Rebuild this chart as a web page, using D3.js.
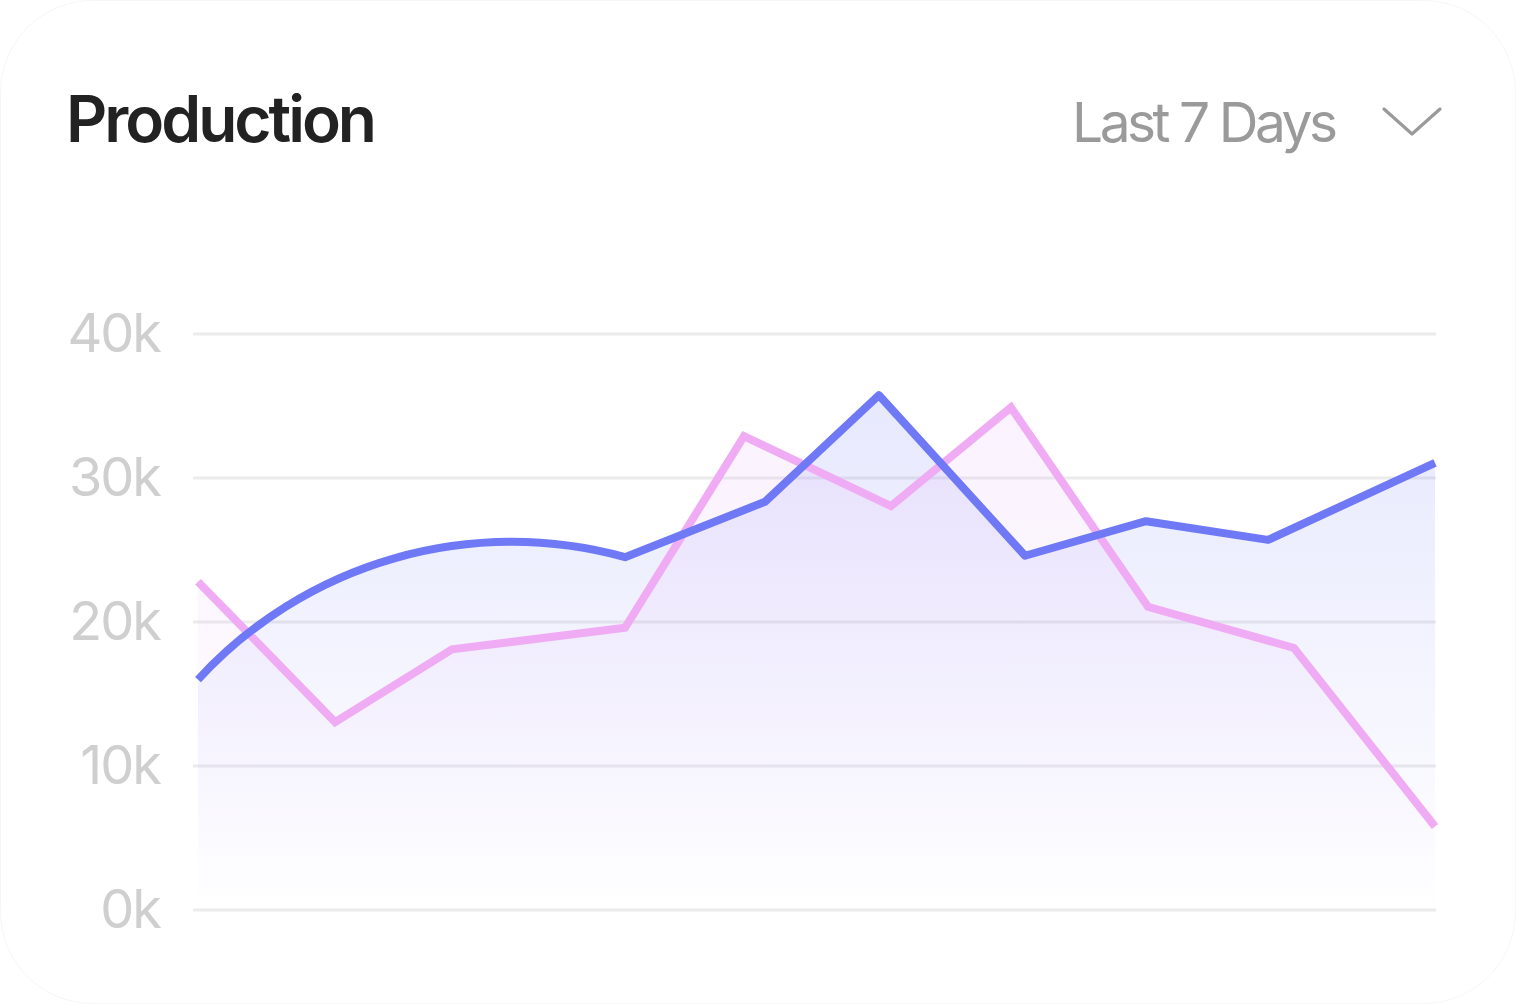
<!DOCTYPE html>
<html>
<head>
<meta charset="utf-8">
<script src="https://cdn.jsdelivr.net/npm/d3@7"></script>
<style>
  html, body { margin: 0; padding: 0; background: #ffffff; }
  svg { display: block; }
</style>
</head>
<body>
<svg id="chart" width="1516" height="1004"></svg>
<script>
// ---- data ----
const title = "Production";
const rangeLabel = "Last 7 Days";
const yTicks = [0, 10000, 20000, 30000, 40000];
const yTickLabels = ["0k", "10k", "20k", "30k", "40k"];

// position along the period (0–100) and value for each series
const pinkX = [0, 11.08, 20.53, 34.52, 44.14, 56.02, 65.72, 76.8, 88.6, 100];
const pinkY = [22800, 13050, 18100, 19600, 32900, 28050, 34900, 21050, 18200, 5800];

const blueX = [0, 34.52, 45.84, 55.05, 66.86, 76.64, 86.5, 100];
const blueY = [16000, 24500, 28350, 35750, 24600, 27000, 25700, 31050];

// ---- layout ----
const W = 1516, H = 1004;
const plot = { left: 198, right: 1435, top: 334, bottom: 910 };

const svg = d3.select("#chart");

// card
svg.append("rect")
  .attr("x", 0.5).attr("y", 0.5)
  .attr("width", W - 1).attr("height", H - 1)
  .attr("rx", 92).attr("ry", 92)
  .attr("fill", "#ffffff")
  .attr("stroke", "#f6f6f6")
  .attr("stroke-width", 1);

const x = d3.scaleLinear().domain([0, 100]).range([plot.left, plot.right]);
const y = d3.scaleLinear().domain([0, 40000]).range([plot.bottom, plot.top]);

// title & dropdown
svg.append("text")
  .attr("x", 66).attr("y", 142)
  .attr("font-family", "Inter, 'Open Sans', sans-serif")
  .attr("font-weight", 600)
  .attr("font-size", 64)
  .attr("fill", "#222222")
  .attr("textLength", 311)
  .attr("lengthAdjust", "spacing")
  .text(title);

svg.append("text")
  .attr("x", 1072).attr("y", 142)
  .attr("font-family", "Inter, 'Open Sans', sans-serif")
  .attr("font-weight", 400)
  .attr("font-size", 55)
  .attr("fill", "#9a9a9a")
  .attr("textLength", 266)
  .attr("lengthAdjust", "spacing")
  .text(rangeLabel);

svg.append("path")
  .attr("d", d3.line()([[1384, 109], [1412, 134], [1440, 109]]))
  .attr("fill", "none")
  .attr("stroke", "#9a9a9a")
  .attr("stroke-width", 3.2)
  .attr("stroke-linecap", "round")
  .attr("stroke-linejoin", "round");

// gradients
const defs = svg.append("defs");
function grad(id, color, op) {
  const g = defs.append("linearGradient").attr("id", id)
    .attr("x1", 0).attr("y1", 0).attr("x2", 0).attr("y2", 1);
  g.append("stop").attr("offset", "0%").attr("stop-color", color).attr("stop-opacity", op);
  g.append("stop").attr("offset", "100%").attr("stop-color", color).attr("stop-opacity", 0);
}
grad("gBlue", "#6f79f6", 0.17);
grad("gPink", "#dfa6f6", 0.15);

// grid lines
const gridG = svg.append("g");
gridG.selectAll("line").data(yTicks).join("line")
  .attr("x1", 193).attr("x2", 1436)
  .attr("y1", d => y(d)).attr("y2", d => y(d))
  .attr("stroke", "#ebebeb")
  .attr("stroke-width", 3);

// y axis labels
svg.append("g").selectAll("text").data(yTicks).join("text")
  .attr("x", 160)
  .attr("y", d => y(d) + 3)
  .attr("text-anchor", "end")
  .attr("dominant-baseline", "middle")
  .attr("font-family", "Inter, 'Open Sans', sans-serif")
  .attr("font-size", 54)
  .attr("letter-spacing", -2)
  .attr("fill", "#cfcfcf")
  .text((d, i) => yTickLabels[i]);

// series geometry
const pinkPts = pinkX.map((v, i) => [x(v), y(pinkY[i])]);
const bluePts = blueX.map((v, i) => [x(v), y(blueY[i])]);

const pinkLine = d3.line()(pinkPts);
// blue: first segment drawn as a circular arc, the rest straight
const arcR = 426;
function bluePath() {
  const p = d3.path();
  p.moveTo(bluePts[0][0], bluePts[0][1]);
  let s = p.toString();
  s += `A${arcR},${arcR} 0 0 1 ${bluePts[1][0]},${bluePts[1][1]}`;
  for (let i = 2; i < bluePts.length; i++) s += `L${bluePts[i][0]},${bluePts[i][1]}`;
  return s;
}
const blueLine = bluePath();
const base = y(0);
function closeArea(lineStr, pts) {
  return lineStr + `L${pts[pts.length - 1][0]},${base}L${pts[0][0]},${base}Z`;
}

// areas
svg.append("path").attr("d", closeArea(blueLine, bluePts)).attr("fill", "url(#gBlue)");
svg.append("path").attr("d", closeArea(pinkLine, pinkPts)).attr("fill", "url(#gPink)");

// lines
svg.append("path").attr("d", pinkLine)
  .attr("fill", "none").attr("stroke", "#efacf4")
  .attr("stroke-width", 8).attr("stroke-linejoin", "miter");
svg.append("path").attr("d", blueLine)
  .attr("fill", "none").attr("stroke", "#6f79f6")
  .attr("stroke-width", 8).attr("stroke-linejoin", "round");
</script>
</body>
</html>
